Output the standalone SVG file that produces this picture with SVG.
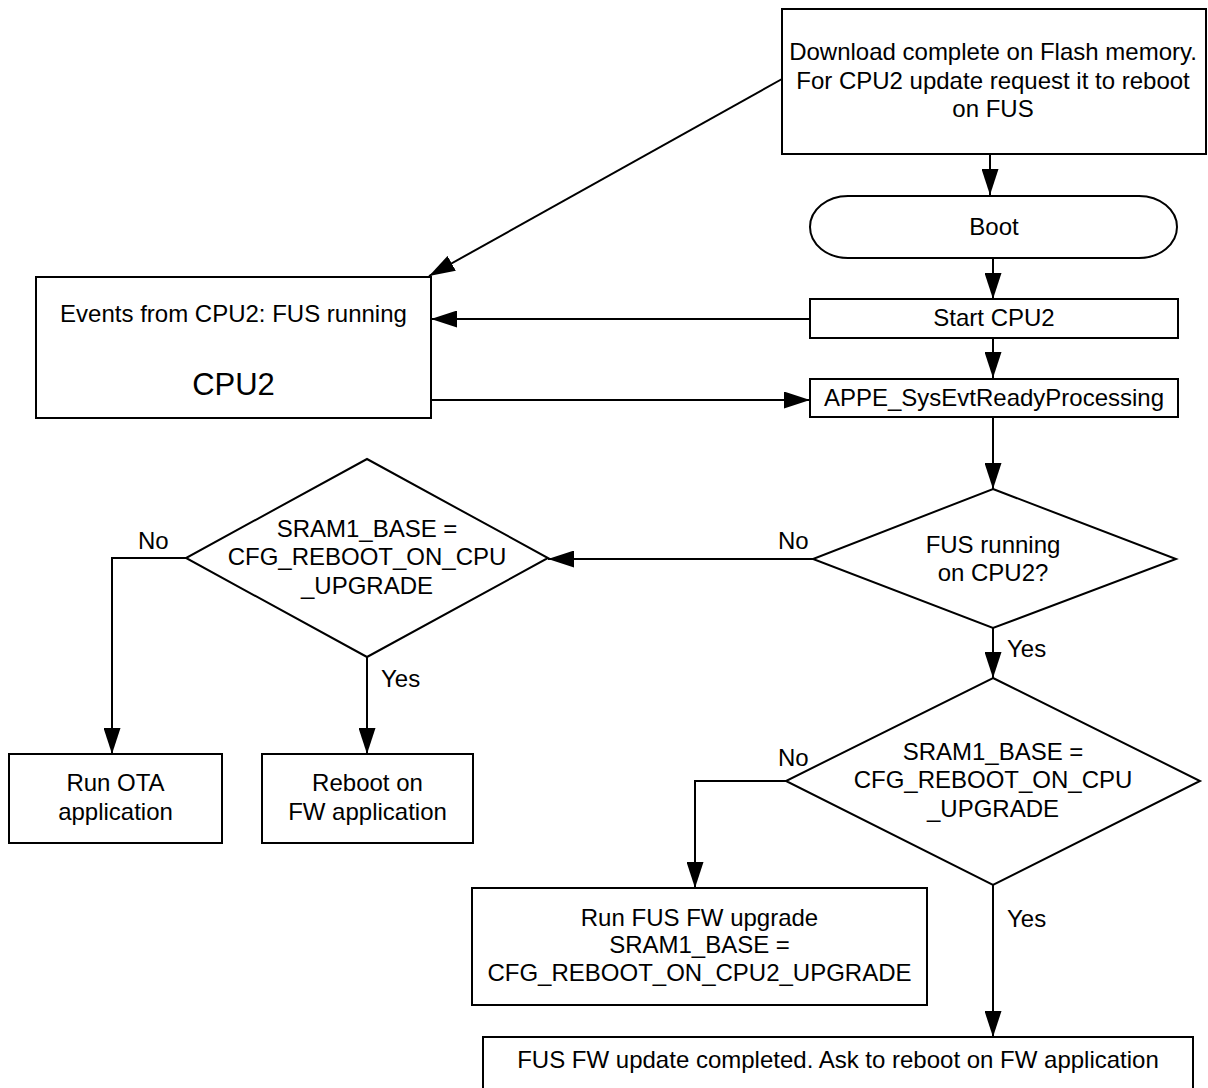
<svg xmlns="http://www.w3.org/2000/svg" width="1208" height="1088" viewBox="0 0 1208 1088">
<style>
.shape{fill:#fff;stroke:#000;stroke-width:2}
.t{font-family:"Liberation Sans",Arial,sans-serif;font-size:24px;fill:#000;text-anchor:middle}
.lbl{font-family:"Liberation Sans",Arial,sans-serif;font-size:24px;fill:#000}
.c{fill:none;stroke:#000;stroke-width:2}
</style>
<defs>
<marker id="ah" markerUnits="userSpaceOnUse" markerWidth="26" markerHeight="17" refX="26" refY="8.5" orient="auto">
<path d="M0,0 L26,8.5 L0,17 z" fill="#000"/>
</marker>
</defs>
<rect width="1208" height="1088" fill="#fff"/>
<g id="connectors">
<path class="c" d="M782,79 L429,276" marker-end="url(#ah)"/>
<path class="c" d="M990,154 L990,195" marker-end="url(#ah)"/>
<path class="c" d="M993,258 L993,299" marker-end="url(#ah)"/>
<path class="c" d="M993,338 L993,378" marker-end="url(#ah)"/>
<path class="c" d="M810,319 L431,319" marker-end="url(#ah)"/>
<path class="c" d="M431,400 L810,400" marker-end="url(#ah)"/>
<path class="c" d="M993,417 L993,489" marker-end="url(#ah)"/>
<path class="c" d="M813,559 L548,559" marker-end="url(#ah)"/>
<path class="c" d="M186,558 L112,558 L112,754" marker-end="url(#ah)"/>
<path class="c" d="M367,657 L367,754" marker-end="url(#ah)"/>
<path class="c" d="M993,628 L993,678" marker-end="url(#ah)"/>
<path class="c" d="M786,781 L695,781 L695,888" marker-end="url(#ah)"/>
<path class="c" d="M993,885 L993,1037" marker-end="url(#ah)"/>
<text class="lbl" x="778" y="549">No</text>
<text class="lbl" x="1007" y="657">Yes</text>
<text class="lbl" x="138" y="549">No</text>
<text class="lbl" x="381" y="687">Yes</text>
<text class="lbl" x="778" y="766">No</text>
<text class="lbl" x="1007" y="927">Yes</text>
</g>
<g id="download">
<rect class="shape" x="782" y="9" width="424" height="145"/>
<text class="t" x="993" y="60">Download complete on Flash memory.</text>
<text class="t" x="993" y="88.5">For CPU2 update request it to reboot</text>
<text class="t" x="993" y="117">on FUS</text>
</g>
<g id="boot">
<rect class="shape" x="810" y="196" width="367" height="62" rx="38" ry="31"/>
<text class="t" x="994" y="235">Boot</text>
</g>
<g id="start-cpu2">
<rect class="shape" x="810" y="299" width="368" height="39"/>
<text class="t" x="994" y="326">Start CPU2</text>
</g>
<g id="appe">
<rect class="shape" x="810" y="379" width="368" height="38"/>
<text class="t" x="994" y="406">APPE_SysEvtReadyProcessing</text>
</g>
<g id="cpu2">
<rect class="shape" x="36" y="277" width="395" height="141"/>
<text class="t" x="233.5" y="322">Events from CPU2: FUS running</text>
<text class="t" x="233.5" y="395" style="font-size:31px">CPU2</text>
</g>
<g id="fus-running">
<polygon class="shape" points="993,489 1176,559 993,628 813,559"/>
<text class="t" x="993" y="553">FUS running</text>
<text class="t" x="993" y="581">on CPU2?</text>
</g>
<g id="sram-check-left">
<polygon class="shape" points="367,459 548,558 367,657 186,558"/>
<text class="t" x="367" y="537">SRAM1_BASE =</text>
<text class="t" x="367" y="565">CFG_REBOOT_ON_CPU</text>
<text class="t" x="367" y="594">_UPGRADE</text>
</g>
<g id="run-ota">
<rect class="shape" x="9" y="754" width="213" height="89"/>
<text class="t" x="115.5" y="791">Run OTA</text>
<text class="t" x="115.5" y="820">application</text>
</g>
<g id="reboot-fw">
<rect class="shape" x="262" y="754" width="211" height="89"/>
<text class="t" x="367.5" y="791">Reboot on</text>
<text class="t" x="367.5" y="820">FW application</text>
</g>
<g id="sram-check-right">
<polygon class="shape" points="993,678 1200,781 993,885 786,781"/>
<text class="t" x="993" y="760">SRAM1_BASE =</text>
<text class="t" x="993" y="788">CFG_REBOOT_ON_CPU</text>
<text class="t" x="993" y="817">_UPGRADE</text>
</g>
<g id="run-fus">
<rect class="shape" x="472" y="888" width="455" height="117"/>
<text class="t" x="699.5" y="926">Run FUS FW upgrade</text>
<text class="t" x="699.5" y="953">SRAM1_BASE =</text>
<text class="t" x="699.5" y="981">CFG_REBOOT_ON_CPU2_UPGRADE</text>
</g>
<g id="fus-completed">
<rect class="shape" x="483" y="1037" width="710" height="70"/>
<text class="t" x="838" y="1068">FUS FW update completed. Ask to reboot on FW application</text>
</g>
</svg>
